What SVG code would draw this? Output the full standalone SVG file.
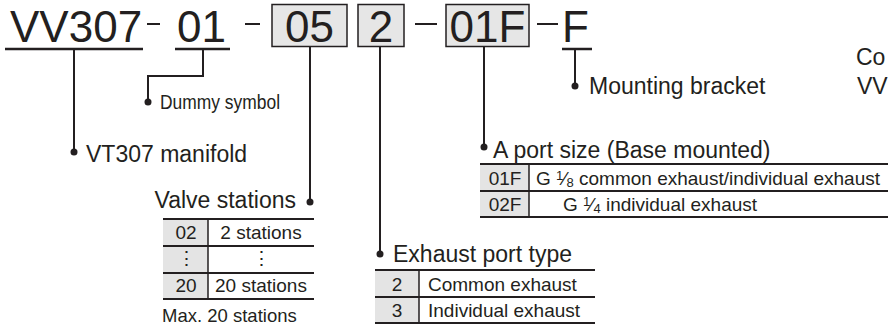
<svg xmlns="http://www.w3.org/2000/svg" width="888" height="329" viewBox="0 0 888 329">
<style>
text{font-family:"Liberation Sans",Arial,sans-serif;fill:#231f20}
.big{font-size:44px}
.lbl{font-size:23px}
.tb{font-size:19px}
.ln{stroke:#231f20;stroke-width:2;fill:none}
.ul{stroke:#231f20;stroke-width:2.5;fill:none}
.box{fill:#e6e6e6;stroke:#231f20;stroke-width:1.5}
.gray{fill:#e4e4e4}
.th{stroke:#231f20;stroke-width:2.2}
.tv{stroke:#231f20;stroke-width:1.5}
.dot{fill:#231f20}
</style>
<g id="code">
<text class="big" x="10" y="42">VV307</text>
<line class="ul" x1="5" y1="49" x2="143" y2="49"/>
<line class="ln" x1="147" y1="24" x2="160" y2="24"/>
<text class="big" x="177" y="42">01</text>
<line class="ul" x1="175" y1="49" x2="230" y2="49"/>
<line class="ln" x1="245" y1="24" x2="260" y2="24"/>
<rect class="box" x="272" y="4.5" width="75" height="42"/>
<text class="big" x="309.5" y="42" text-anchor="middle">05</text>
<rect class="box" x="358" y="4.5" width="46" height="42"/>
<text class="big" x="381" y="42" text-anchor="middle">2</text>
<line class="ln" x1="415" y1="24" x2="437" y2="24"/>
<rect class="box" x="446" y="4.5" width="83" height="42"/>
<text class="big" x="487.5" y="42" text-anchor="middle">01F</text>
<line class="ln" x1="537" y1="24" x2="558" y2="24"/>
<text class="big" x="562" y="42">F</text>
<line class="ul" x1="562" y1="49" x2="592" y2="49"/>
</g>
<g id="connectors">
<polyline class="ln" points="74,49 74,152"/>
<polyline class="ln" points="203,49 203,76 148,76 148,102"/>
<polyline class="ln" points="310,47 310,202"/>
<polyline class="ln" points="380,47 380,254"/>
<polyline class="ln" points="484,47 484,147"/>
<polyline class="ln" points="575,49 575,86"/>
<circle class="dot" cx="74" cy="152" r="3.5"/>
<circle class="dot" cx="148" cy="102" r="3.5"/>
<circle class="dot" cx="310" cy="202" r="3.5"/>
<circle class="dot" cx="380" cy="254" r="3.5"/>
<circle class="dot" cx="484" cy="147" r="3.5"/>
<circle class="dot" cx="575" cy="86" r="3.5"/>
</g>
<g id="manifold">
<text class="lbl" x="86" y="162">VT307 manifold</text>
</g>
<g id="dummy">
<text x="160" y="109" font-size="20" textLength="120" lengthAdjust="spacingAndGlyphs">Dummy symbol</text>
</g>
<g id="mounting">
<text class="lbl" x="589" y="94">Mounting bracket</text>
</g>
<g id="edge-text">
<text class="lbl" x="856" y="65">Co</text>
<text class="lbl" x="857" y="94">VV</text>
</g>
<g id="valve-stations">
<text class="lbl" x="296" y="208" text-anchor="end">Valve stations</text>
<rect class="gray" x="163" y="219" width="45" height="80"/>
<line class="th" x1="163" y1="219" x2="314" y2="219"/>
<line class="th" x1="163" y1="246" x2="314" y2="246"/>
<line class="th" x1="163" y1="273" x2="314" y2="273"/>
<line class="th" x1="163" y1="299" x2="314" y2="299"/>
<line class="tv" x1="208" y1="219" x2="208" y2="299"/>
<text class="tb" x="186" y="239" text-anchor="middle">02</text>
<text class="tb" x="261" y="239" text-anchor="middle">2 stations</text>
<text class="tb" x="186" y="265" text-anchor="middle">⋮</text>
<text class="tb" x="261" y="265" text-anchor="middle">⋮</text>
<text class="tb" x="186" y="292" text-anchor="middle">20</text>
<text class="tb" x="261" y="292" text-anchor="middle">20 stations</text>
<text x="162" y="322" font-size="18.5">Max. 20 stations</text>
</g>
<g id="exhaust-port">
<text class="lbl" x="393" y="262">Exhaust port type</text>
<rect class="gray" x="375" y="270" width="44" height="53"/>
<line class="th" x1="375" y1="270" x2="595" y2="270"/>
<line class="th" x1="375" y1="297" x2="595" y2="297"/>
<line class="th" x1="375" y1="323" x2="595" y2="323"/>
<line class="tv" x1="419" y1="270" x2="419" y2="323"/>
<text class="tb" x="397" y="291" text-anchor="middle">2</text>
<text class="tb" x="428" y="291">Common exhaust</text>
<text class="tb" x="397" y="317" text-anchor="middle">3</text>
<text class="tb" x="428" y="317">Individual exhaust</text>
</g>
<g id="a-port">
<text class="lbl" x="493" y="158">A port size (Base mounted)</text>
<rect class="gray" x="480" y="164" width="49" height="53"/>
<line class="th" x1="480" y1="164" x2="888" y2="164"/>
<line class="th" x1="480" y1="191" x2="888" y2="191"/>
<line class="th" x1="480" y1="217" x2="888" y2="217"/>
<line class="tv" x1="529" y1="164" x2="529" y2="217"/>
<text class="tb" x="505" y="185" text-anchor="middle">01F</text>
<text class="tb" x="536" y="185">G <tspan font-size="13" dy="-5">1</tspan><tspan dy="5">⁄</tspan><tspan font-size="13" dy="2">8</tspan><tspan dy="-2"> common exhaust/individual exhaust</tspan></text>
<text class="tb" x="505" y="211" text-anchor="middle">02F</text>
<text class="tb" x="563" y="211">G <tspan font-size="13" dy="-5">1</tspan><tspan dy="5">⁄</tspan><tspan font-size="13" dy="2">4</tspan><tspan dy="-2"> individual exhaust</tspan></text>
</g>
</svg>
